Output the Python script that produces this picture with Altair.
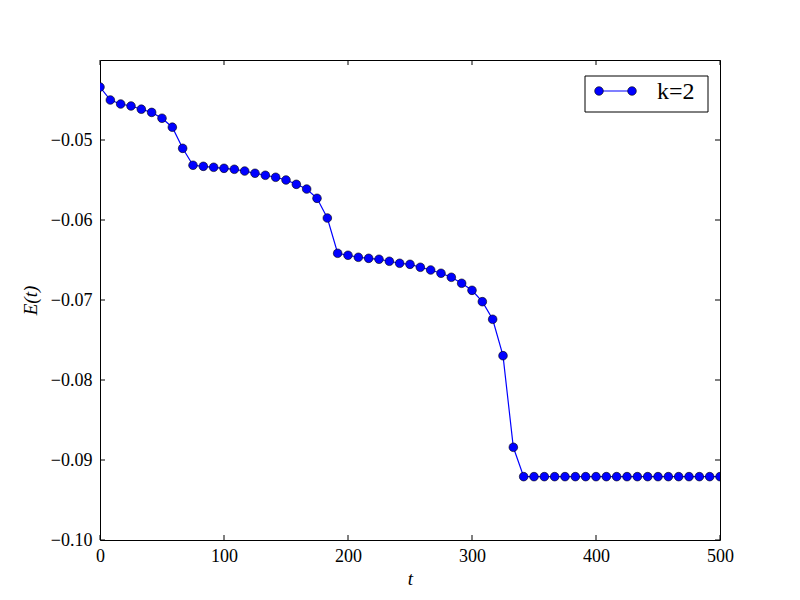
import altair as alt
import pandas as pd

# Data
t_values = [i * 500 / 60 for i in range(61)]
e_values = [
    -0.04338, -0.04500, -0.04550, -0.04575, -0.04615, -0.04655, -0.04728, -0.04840,
    -0.05104, -0.05316, -0.05329, -0.05341, -0.05354, -0.05366, -0.05388, -0.05416,
    -0.05441, -0.05466, -0.05500, -0.05554, -0.05613, -0.05729, -0.05975, -0.06416,
    -0.06441, -0.06466, -0.06479, -0.06491, -0.06516, -0.06541, -0.06554, -0.06591,
    -0.06625, -0.06666, -0.06716, -0.06791, -0.06879, -0.07021, -0.07241, -0.07696,
    -0.08841,
] + [-0.09208] * 20

x_ticks = [0, 100, 200, 300, 400, 500]
y_ticks = [-0.10, -0.09, -0.08, -0.07, -0.06, -0.05]
series_label = "k=2"

df = pd.DataFrame({"t": t_values, "E": e_values})
xt = pd.DataFrame({"t": x_ticks})
yt = pd.DataFrame({"E": y_ticks})

FONT = "Liberation Serif"
W, H = 620, 480

xscale = alt.Scale(domain=[0, 500], nice=False, zero=False)
yscale = alt.Scale(domain=[-0.10, -0.04], nice=False, zero=False)

xenc = alt.X("t:Q", scale=xscale, axis=alt.Axis(
    values=x_ticks, format="d", grid=False, ticks=False, domain=False, labelFlush=False,
    labelPadding=7, labelFontSize=18, labelFont=FONT, labelColor="black",
    title="t", titleFont=FONT, titleFontSize=19, titleFontStyle="italic",
    titleFontWeight="normal", titleColor="black", titleY=38, titleBaseline="middle"))
yenc = alt.Y("E:Q", scale=yscale, axis=alt.Axis(
    values=y_ticks, format=".2f", grid=False, ticks=False, domain=False, labelFlush=False,
    labelPadding=8, labelFontSize=18, labelFont=FONT, labelColor="black",
    title="E(t)", titleFont=FONT, titleFontSize=19, titleFontStyle="italic",
    titleFontWeight="normal", titleColor="black", titleX=-70, titleY=240,
    titleAlign="center", titleBaseline="middle"))

line = alt.Chart(df).mark_line(color="#0000ff", strokeWidth=1.2, clip=True).encode(x=xenc, y=yenc)
pts = alt.Chart(df).mark_point(filled=True, shape="circle", size=75, fill="#0000ff",
                               stroke="black", strokeWidth=0.6, opacity=1, clip=True).encode(
    x=alt.X("t:Q", scale=xscale), y=alt.Y("E:Q", scale=yscale))

# inward ticks on all four sides
tb = alt.Chart(xt).mark_rule(color="black", strokeWidth=1).encode(
    x=alt.X("t:Q", scale=xscale), y=alt.value(H), y2=alt.value(H - 5))
tt = alt.Chart(xt).mark_rule(color="black", strokeWidth=1).encode(
    x=alt.X("t:Q", scale=xscale), y=alt.value(0), y2=alt.value(5))
tl = alt.Chart(yt).mark_rule(color="black", strokeWidth=1).encode(
    y=alt.Y("E:Q", scale=yscale), x=alt.value(0), x2=alt.value(5))
tr = alt.Chart(yt).mark_rule(color="black", strokeWidth=1).encode(
    y=alt.Y("E:Q", scale=yscale), x=alt.value(W), x2=alt.value(W - 5))

# legend box
leg_df = pd.DataFrame({"label": [series_label]})
leg_box = alt.Chart(leg_df).mark_rect(fill="white", stroke="black", strokeWidth=1).encode(
    x=alt.value(485), x2=alt.value(608), y=alt.value(16), y2=alt.value(52))
leg_line = alt.Chart(leg_df).mark_rule(color="#0000ff", strokeWidth=1.2).encode(
    x=alt.value(499), x2=alt.value(532), y=alt.value(31))
leg_p1 = alt.Chart(leg_df).mark_point(filled=True, shape="circle", size=75, fill="#0000ff",
                                      stroke="black", strokeWidth=0.6, opacity=1).encode(
    x=alt.value(499), y=alt.value(31))
leg_p2 = alt.Chart(leg_df).mark_point(filled=True, shape="circle", size=75, fill="#0000ff",
                                      stroke="black", strokeWidth=0.6, opacity=1).encode(
    x=alt.value(532), y=alt.value(31))
leg_txt = alt.Chart(leg_df).mark_text(font=FONT, fontSize=24, align="left", baseline="middle",
                                      color="black").encode(
    x=alt.value(557), y=alt.value(32), text="label:N")

chart = alt.layer(line, pts, tb, tt, tl, tr, leg_box, leg_line, leg_p1, leg_p2, leg_txt).properties(
    width=W, height=H,
    autosize=alt.AutoSizeParams(type="none"),
    padding={"left": 100, "top": 60, "right": 80, "bottom": 60},
    background="white",
).configure_view(stroke="black", strokeWidth=1)

chart.save("out.html", embed_options={"renderer": "svg", "actions": False})
